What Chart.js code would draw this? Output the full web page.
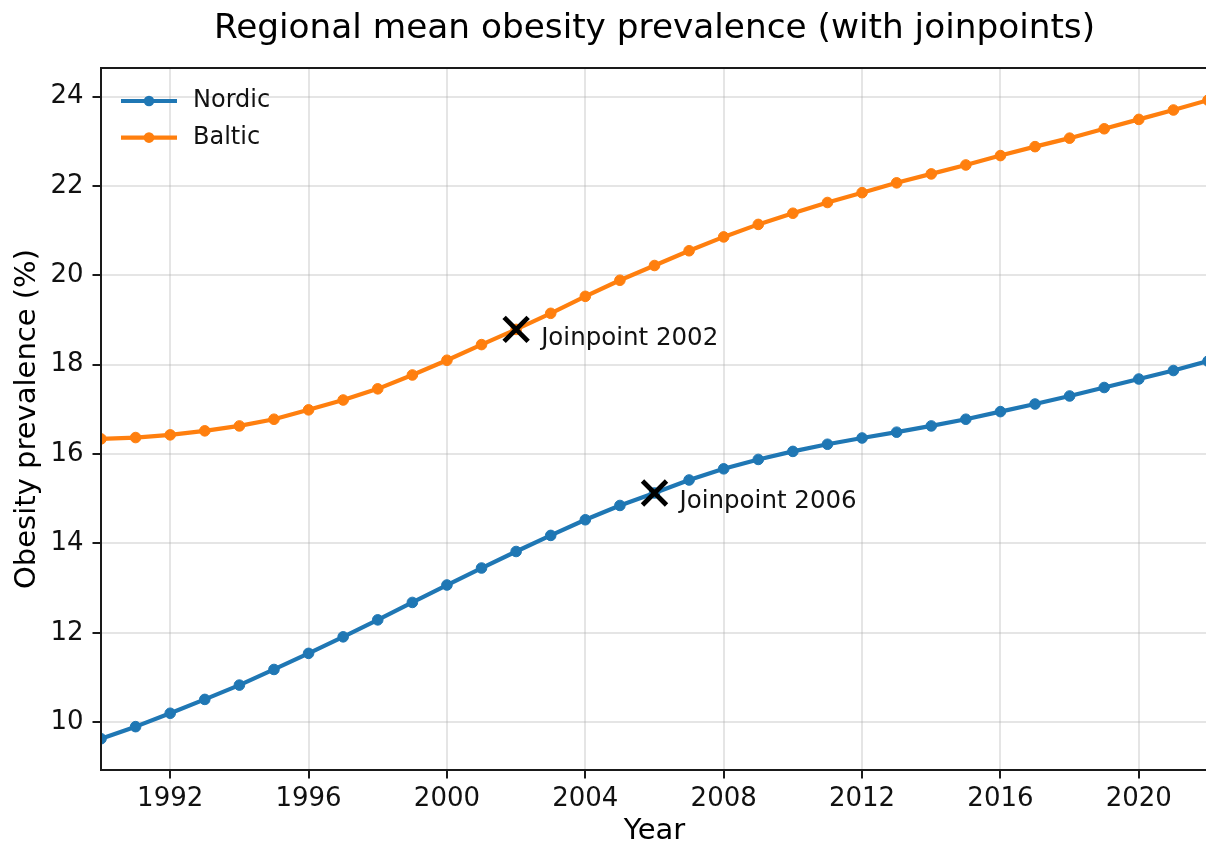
<!DOCTYPE html>
<html>
<head>
<meta charset="utf-8">
<title>Regional mean obesity prevalence</title>
<script src="https://cdn.jsdelivr.net/npm/chart.js@4/dist/chart.umd.min.js"></script>
<style>
  html, body { margin: 0; padding: 0; background: #fff; overflow: hidden; }
  #wrap { width: 1208px; height: 850px; }
</style>
</head>
<body>
<div id="wrap"><canvas id="chart" width="1208" height="850"></canvas></div>
<script>
// ---- data -------------------------------------------------------------
const YEARS = [1990, 1991, 1992, 1993, 1994, 1995, 1996, 1997, 1998, 1999,
               2000, 2001, 2002, 2003, 2004, 2005, 2006, 2007, 2008, 2009,
               2010, 2011, 2012, 2013, 2014, 2015, 2016, 2017, 2018, 2019,
               2020, 2021, 2022];

const NORDIC = [9.63, 9.90, 10.20, 10.51, 10.83, 11.18, 11.54, 11.91, 12.29, 12.68,
                13.07, 13.45, 13.82, 14.18, 14.53, 14.85, 15.13, 15.42, 15.67, 15.88,
                16.06, 16.22, 16.36, 16.49, 16.63, 16.78, 16.95, 17.12, 17.30, 17.49,
                17.68, 17.87, 18.08];

const BALTIC = [16.34, 16.37, 16.43, 16.52, 16.63, 16.78, 16.99, 17.21, 17.46, 17.77,
                18.10, 18.45, 18.79, 19.15, 19.53, 19.89, 20.22, 20.55, 20.86, 21.14,
                21.39, 21.63, 21.85, 22.07, 22.27, 22.47, 22.68, 22.88, 23.07, 23.28,
                23.49, 23.70, 23.92];

const X_TICKS = [1992, 1996, 2000, 2004, 2008, 2012, 2016, 2020];
const Y_TICKS = [10, 12, 14, 16, 18, 20, 22, 24];

// joinpoint year for each region
const JOIN_REGIONS = ['Baltic', 'Nordic'];
const JOIN_YEARS = [2002, 2006];

const TITLE = 'Regional mean obesity prevalence (with joinpoints)';

// ---- styling ----------------------------------------------------------
const FONT = '"DejaVu Sans", "Liberation Sans", sans-serif';
const BLUE = '#1f77b4';
const ORANGE = '#ff7f0e';
const TEXT = '#111';

const seriesByRegion = { Nordic: NORDIC, Baltic: BALTIC };
const toPoints = (vals) => YEARS.map((yr, i) => ({ x: yr, y: vals[i] }));
const joinPoints = JOIN_REGIONS.map((r, k) => ({
  x: JOIN_YEARS[k],
  y: seriesByRegion[r][YEARS.indexOf(JOIN_YEARS[k])]
}));

function lineDataset(label, vals, color) {
  return {
    label,
    data: toPoints(vals),
    borderColor: color,
    backgroundColor: color,
    borderWidth: 4.2,
    borderJoinStyle: 'round',
    pointRadius: 5.3,
    pointBorderWidth: 1,
    pointBackgroundColor: color,
    pointBorderColor: color,
    tension: 0,
    order: 1
  };
}

// title, frame, legend and joinpoint captions
const decorations = {
  id: 'decorations',
  afterDraw(chart) {
    const { ctx, chartArea: a, scales } = chart;
    ctx.save();

    // title centred over the plotting area
    ctx.fillStyle = '#000';
    ctx.font = '34.3px ' + FONT;
    ctx.textAlign = 'center';
    ctx.textBaseline = 'alphabetic';
    ctx.fillText(TITLE, (a.left + a.right) / 2, 38);

    // axes frame
    ctx.strokeStyle = '#1a1a1a';
    ctx.lineWidth = 2;
    ctx.strokeRect(a.left, a.top, a.right - a.left, a.bottom - a.top);

    // joinpoint captions
    ctx.fillStyle = TEXT;
    ctx.font = '24.5px ' + FONT;
    ctx.textAlign = 'left';
    ctx.textBaseline = 'alphabetic';
    joinPoints.forEach((p, k) => {
      const px = scales.x.getPixelForValue(p.x);
      const py = scales.y.getPixelForValue(p.y);
      ctx.fillText('Joinpoint ' + JOIN_YEARS[k], px + 25, py + 15.5);
    });

    // legend (upper left)
    const entries = [
      { label: 'Nordic', color: BLUE },
      { label: 'Baltic', color: ORANGE }
    ];
    const x0 = a.left + 20, x1 = a.left + 76, xm = (x0 + x1) / 2;
    entries.forEach((e, i) => {
      const y = a.top + 33 + i * 36.6;
      ctx.strokeStyle = e.color;
      ctx.lineWidth = 4.2;
      ctx.beginPath();
      ctx.moveTo(x0, y);
      ctx.lineTo(x1, y);
      ctx.stroke();
      ctx.fillStyle = e.color;
      ctx.beginPath();
      ctx.arc(xm, y, 5.3, 0, Math.PI * 2);
      ctx.fill();
      ctx.fillStyle = TEXT;
      ctx.font = '24px ' + FONT;
      ctx.textBaseline = 'middle';
      ctx.fillText(e.label, x1 + 16, y);
    });
    ctx.restore();
  }
};

new Chart(document.getElementById('chart'), {
  type: 'line',
  data: {
    datasets: [
      lineDataset('Nordic', NORDIC, BLUE),
      lineDataset('Baltic', BALTIC, ORANGE),
      {
        type: 'scatter',
        label: 'Joinpoints',
        data: joinPoints,
        pointStyle: 'crossRot',
        pointRadius: 17,
        borderWidth: 4.8,
        borderColor: '#000',
        backgroundColor: '#000',
        order: 0
      }
    ]
  },
  options: {
    responsive: false,
    devicePixelRatio: 1,
    animation: false,
    events: [],
    layout: { padding: { top: 68, left: 0, right: 0, bottom: 0 }, autoPadding: false },
    plugins: {
      legend: { display: false },
      tooltip: { enabled: false },
      title: { display: false }
    },
    scales: {
      x: {
        type: 'linear',
        min: 1990,
        max: 2022,
        afterFit(scale) {
          scale.height = 80;
          scale.paddingLeft = 0;
          scale.paddingRight = 0;
        },
        afterBuildTicks(scale) { scale.ticks = X_TICKS.map(v => ({ value: v })); },
        ticks: {
          color: TEXT,
          font: { family: FONT, size: 26 },
          padding: 5,
          maxRotation: 0,
          autoSkip: false,
          callback: (v) => String(v)
        },
        grid: {
          color: 'rgba(176,176,176,0.33)',
          lineWidth: 2,
          tickColor: '#1a1a1a',
          tickWidth: 2,
          tickLength: 8.5
        },
        border: { display: false },
        title: {
          display: true,
          text: 'Year',
          color: '#000',
          font: { family: FONT, size: 29 },
          padding: { top: 0, bottom: 1 }
        }
      },
      y: {
        type: 'linear',
        min: 8.93,
        max: 24.64,
        afterFit(scale) {
          scale.width = 101;
          scale.paddingTop = 0;
          scale.paddingBottom = 0;
        },
        afterBuildTicks(scale) { scale.ticks = Y_TICKS.map(v => ({ value: v })); },
        ticks: {
          color: TEXT,
          font: { family: FONT, size: 26 },
          padding: 9,
          autoSkip: false,
          callback: (v) => String(v)
        },
        grid: {
          color: 'rgba(176,176,176,0.33)',
          lineWidth: 2,
          tickColor: '#1a1a1a',
          tickWidth: 2,
          tickLength: 8.5
        },
        border: { display: false },
        title: {
          display: true,
          text: 'Obesity prevalence (%)',
          color: '#000',
          font: { family: FONT, size: 29 },
          padding: { top: 10, bottom: 0 }
        }
      }
    }
  },
  plugins: [decorations]
});
</script>
</body>
</html>
